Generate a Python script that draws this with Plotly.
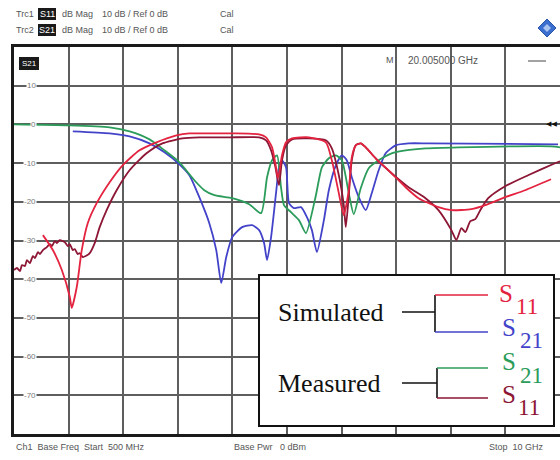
import plotly.graph_objects as go

# ---------------- trace data (frequency in GHz, magnitude in dB) ----------------
sim_s11_f = [1.003, 1.176, 1.332, 1.471, 1.505, 1.592, 1.679, 1.783, 1.939, 2.164,
             2.390, 2.684, 2.979, 3.326, 3.551, 3.724, 4.297, 4.765, 4.886, 4.990,
             5.059, 5.094, 5.163, 5.233, 5.337, 5.631, 5.926, 6.030, 6.152, 6.238,
             6.325, 6.377, 6.446, 6.533, 6.620, 6.793, 7.070, 7.313, 7.538, 7.885,
             8.110, 8.457, 8.700, 9.046, 9.393, 9.844]
sim_s11_db = [-28.61, -32.47, -37.63, -44.59, -47.42, -42.01, -32.47, -25.52, -20.36, -14.95,
              -10.57, -6.70, -4.64, -2.84, -2.32, -2.32, -2.32, -2.58, -3.35, -5.93,
              -11.08, -13.92, -7.99, -4.64, -3.61, -3.35, -4.64, -9.28, -17.78, -23.45,
              -17.01, -8.51, -5.41, -4.90, -5.93, -8.76, -12.63, -16.24, -19.07, -21.39,
              -22.16, -21.91, -20.88, -18.81, -17.01, -14.18]

sim_s21_f = [1.523, 2.164, 2.511, 2.858, 3.118, 3.378, 3.551, 3.724, 3.898,
             4.019, 4.106, 4.193, 4.297, 4.470, 4.643, 4.765, 4.851, 4.903, 4.973,
             5.059, 5.111, 5.163, 5.233, 5.285, 5.371, 5.493, 5.597, 5.683, 5.770,
             5.892, 5.978, 6.100, 6.204, 6.290, 6.377, 6.498, 6.620, 6.724, 6.845,
             6.966, 7.140, 7.365, 7.712, 9.966]
sim_s21_db = [-1.80, -2.32, -3.09, -4.90, -7.22, -10.31, -13.14, -18.81, -25.52,
              -32.47, -40.98, -34.28, -29.12, -26.55, -26.03, -27.32, -30.67, -35.05, -29.12,
              -17.78, -11.08, -9.28, -11.08, -20.36, -21.65, -21.39, -23.97, -27.32, -32.99,
              -24.74, -17.01, -10.57, -7.99, -9.28, -13.66, -18.81, -22.16, -17.78, -11.86,
              -7.47, -5.41, -4.90, -4.90, -5.15]

meas_s21_f = [0.500, 1.453, 2.164, 2.511, 2.858, 3.118, 3.378, 3.638, 3.811, 3.985,
              4.297, 4.591, 4.799, 4.903, 4.990, 5.077, 5.146, 5.198, 5.319, 5.458,
              5.579, 5.753, 5.857, 5.978, 6.100, 6.204, 6.325, 6.412, 6.533, 6.672,
              6.845, 7.070, 7.313, 7.660, 8.232, 9.844, 10.000]
meas_s21_db = [0.00, -0.26, -0.77, -1.80, -3.87, -6.70, -9.79, -14.43, -17.01, -18.30,
               -19.07, -20.62, -22.94, -13.66, -9.28, -7.99, -16.24, -20.88, -22.68, -24.74,
               -28.09, -18.30, -11.08, -8.76, -7.99, -9.28, -17.78, -23.20, -16.49, -11.34,
               -9.28, -7.47, -6.70, -6.19, -5.93, -5.67, -5.93]

meas_s11_f = [0.500, 0.552, 0.604, 0.639, 0.691, 0.725, 0.777, 0.829, 0.864, 0.916,
              0.951, 1.003, 1.072, 1.124, 1.159, 1.211, 1.245, 1.297, 1.349, 1.384,
              1.436, 1.471, 1.523, 1.557, 1.609, 1.644, 1.696, 1.748, 1.818, 1.904,
              1.991, 2.112, 2.286, 2.511, 2.806, 3.083, 3.430, 3.724, 4.245, 4.765,
              4.886, 4.973, 5.042, 5.111, 5.163, 5.233, 5.337, 5.631, 5.926, 6.030,
              6.152, 6.238, 6.273, 6.325, 6.377, 6.446, 6.533, 6.620, 6.793, 7.070,
              7.365, 7.660, 7.885, 8.110, 8.197, 8.284, 8.353, 8.440, 8.526, 8.613,
              8.751, 9.046, 9.445, 9.913, 10.000]
meas_s11_db = [-37.63, -37.11, -37.89, -36.34, -36.60, -35.05, -35.82, -34.02, -34.54, -32.99,
               -33.51, -32.47, -31.70, -30.93, -31.44, -30.15, -30.67, -29.90, -30.15, -30.41,
               -31.44, -30.93, -32.47, -32.22, -33.51, -33.25, -34.28, -34.02, -33.25, -30.67,
               -26.55, -22.16, -17.01, -11.86, -7.47, -4.90, -3.61, -3.35, -3.35, -3.35,
               -4.12, -6.70, -10.57, -15.72, -9.28, -5.41, -3.87, -3.61, -4.12, -6.19,
               -13.14, -20.88, -26.55, -18.30, -9.28, -5.41, -4.90, -5.93, -8.76, -12.63,
               -16.24, -19.07, -22.16, -27.32, -29.90, -26.80, -27.84, -25.00, -24.48, -22.16,
               -19.07, -15.98, -13.14, -10.05, -9.54]

y_tick_vals = [10, 0, -10, -20, -30, -40, -50, -60, -70]
y_tick_text = ["10", "0", "-10", "-20", "-30", "-40", "-50", "-60", "-70"]

header_rows = [("Trc1", "S11", "dB Mag", "10 dB / Ref 0 dB", "Cal"),
               ("Trc2", "S21", "dB Mag", "10 dB / Ref 0 dB", "Cal")]

C_SIM11 = "#e3233f"
C_SIM21 = "#4343c9"
C_MEA21 = "#2b9c5a"
C_MEA11 = "#8c1634"

W, H = 560, 460
L, R, T, B = 14, 0, 47, 26
PW = W - L - R
PH = H - T - B


def px(x):
    return (x - L) / PW


def py(y):
    return (H - B - y) / PH


fig = go.Figure()
for f, db, col in [(sim_s21_f, sim_s21_db, C_SIM21),
                   (meas_s21_f, meas_s21_db, C_MEA21),
                   (meas_s11_f, meas_s11_db, C_MEA11),
                   (sim_s11_f, sim_s11_db, C_SIM11)]:
    fig.add_trace(go.Scatter(x=f, y=db, mode="lines",
                             line=dict(color=col, width=1.8, shape="spline", smoothing=0.6),
                             showlegend=False, hoverinfo="skip"))

grid_col = "#5e5e5e"
x_end = 0.5 + 0.95 * PW / 54.6
fig.update_xaxes(range=[0.5, x_end], tick0=0.5, dtick=0.95, showgrid=True,
                 gridcolor=grid_col, gridwidth=1.5, showticklabels=False, ticks="",
                 zeroline=False, showline=True, linecolor="#1a1a1a", linewidth=2.5, mirror=True)
fig.update_yaxes(range=[-80, 20], tick0=0, dtick=10, showgrid=True,
                 gridcolor=grid_col, gridwidth=1.5, showticklabels=False, ticks="",
                 zeroline=False, showline=True, linecolor="#1a1a1a", linewidth=2.5)

ann = []
shapes = []

# scale labels written on the grid lines
for v, t in zip(y_tick_vals, y_tick_text):
    ann.append(dict(x=px(37), y=v, xref="paper", yref="y", text=t, showarrow=False,
                    xanchor="right", yanchor="middle", bgcolor="white", borderpad=0,
                    font=dict(family="Liberation Sans", size=8, color="#7a7a7a")))

# header lines above the diagram
small = dict(family="Liberation Sans", size=9, color="#555555")
for i, (trc, par, fmt, scale, cal) in enumerate(header_rows):
    yy = 14 + 16 * i
    ann.append(dict(x=px(14), y=py(yy), xref="paper", yref="paper", text=trc,
                    showarrow=False, xanchor="left", yanchor="middle", font=small))
    shapes.append(dict(type="rect", xref="paper", yref="paper", x0=px(38), x1=px(56),
                       y0=py(yy + 6), y1=py(yy - 6), fillcolor="#1a1a1a", line=dict(width=0)))
    ann.append(dict(x=px(47), y=py(yy), xref="paper", yref="paper", text=par,
                    showarrow=False, xanchor="center", yanchor="middle",
                    font=dict(family="Liberation Sans", size=9, color="white")))
    ann.append(dict(x=px(60), y=py(yy), xref="paper", yref="paper", text=fmt,
                    showarrow=False, xanchor="left", yanchor="middle", font=small))
    ann.append(dict(x=px(100), y=py(yy), xref="paper", yref="paper", text=scale,
                    showarrow=False, xanchor="left", yanchor="middle", font=small))
    ann.append(dict(x=px(218), y=py(yy), xref="paper", yref="paper", text=cal,
                    showarrow=False, xanchor="left", yanchor="middle", font=small))

# footer line
for x0, t in [(14, "Ch1  Base Freq  Start  500 MHz"), (232, "Base Pwr   0 dBm"),
              (487, "Stop  10 GHz")]:
    ann.append(dict(x=px(x0), y=py(447), xref="paper", yref="paper", text=t,
                    showarrow=False, xanchor="left", yanchor="middle", font=small))

# trace name tag and marker readout inside the diagram
shapes.append(dict(type="rect", xref="paper", yref="paper", x0=px(19), x1=px(39),
                   y0=py(70), y1=py(57), fillcolor="#1a1a1a", line=dict(width=0)))
ann.append(dict(x=px(29), y=py(63.5), xref="paper", yref="paper", text="S21",
                showarrow=False, xanchor="center", yanchor="middle",
                font=dict(family="Liberation Sans", size=8, color="white")))
ann.append(dict(x=px(384), y=py(60), xref="paper", yref="paper", text="M",
                showarrow=False, xanchor="left", yanchor="middle", font=small))
ann.append(dict(x=px(406), y=py(60), xref="paper", yref="paper", text="20.005000 GHz",
                showarrow=False, xanchor="left", yanchor="middle",
                font=dict(family="Liberation Sans", size=10, color="#555555")))
shapes.append(dict(type="line", xref="paper", yref="paper", x0=px(528), x1=px(546),
                   y0=py(61), y1=py(61), line=dict(color="#666", width=1.2)))
ann.append(dict(x=px(559), y=0, xref="paper", yref="y", text="◀◀",
                showarrow=False, xanchor="right", yanchor="middle",
                font=dict(family="DejaVu Sans", size=7, color="#111")))

# vendor diamond in the top corner
cx, cy, r = 547, 28, 9
shapes.append(dict(type="path", xref="paper", yref="paper",
                   path=f"M {px(cx - r)} {py(cy)} L {px(cx)} {py(cy - r)} L {px(cx + r)} {py(cy)} "
                        f"L {px(cx)} {py(cy + r)} Z",
                   fillcolor="#3b6fcf", line=dict(color="#2a55a8", width=1)))
r2 = 4
shapes.append(dict(type="path", xref="paper", yref="paper",
                   path=f"M {px(cx - r2)} {py(cy)} L {px(cx)} {py(cy - r2)} L {px(cx + r2)} {py(cy)} "
                        f"L {px(cx)} {py(cy + r2)} Z",
                   fillcolor="#a9c4ee", line=dict(width=0)))

# key box
shapes.append(dict(type="rect", xref="paper", yref="paper", x0=px(259), x1=px(554),
                   y0=py(426), y1=py(275), fillcolor="white",
                   line=dict(color="#111", width=2)))


def seg(x0, y0, x1, y1, col, w=1.6):
    shapes.append(dict(type="line", xref="paper", yref="paper", x0=px(x0), x1=px(x1),
                       y0=py(y0), y1=py(y1), line=dict(color=col, width=w)))


seg(402, 312, 435, 312, "#111")
seg(435, 295, 435, 332, "#111")
seg(435, 295, 488, 295, C_SIM11)
seg(435, 332, 488, 332, C_SIM21)
seg(402, 383, 437, 383, "#111")
seg(437, 368, 437, 398, "#111")
seg(437, 368, 488, 368, C_MEA21)
seg(437, 398, 488, 398, C_MEA11)

serif = "Liberation Serif"
for txt, yy in [("Simulated", 312), ("Measured", 383)]:
    ann.append(dict(x=px(276), y=py(yy), xref="paper", yref="paper", text=txt,
                    showarrow=False, xanchor="left", yanchor="middle",
                    font=dict(family=serif, size=26, color="#111")))

for s_x, s_y, n_x, n_y, num, col in [(497, 293, 514, 306, "11", C_SIM11),
                                     (500, 327, 518, 340, "21", C_SIM21),
                                     (500, 361, 518, 375, "21", C_MEA21),
                                     (500, 394, 516, 407, "11", C_MEA11)]:
    ann.append(dict(x=px(s_x), y=py(s_y), xref="paper", yref="paper", text="S",
                    showarrow=False, xanchor="left", yanchor="middle",
                    font=dict(family=serif, size=25, color=col)))
    ann.append(dict(x=px(n_x), y=py(n_y), xref="paper", yref="paper", text=num,
                    showarrow=False, xanchor="left", yanchor="middle",
                    font=dict(family=serif, size=23, color=col)))

fig.update_layout(width=W, height=H, margin=dict(l=L, r=R, t=T, b=B),
                  paper_bgcolor="white", plot_bgcolor="white",
                  annotations=ann, shapes=shapes, showlegend=False)

fig.write_html("out.html")
